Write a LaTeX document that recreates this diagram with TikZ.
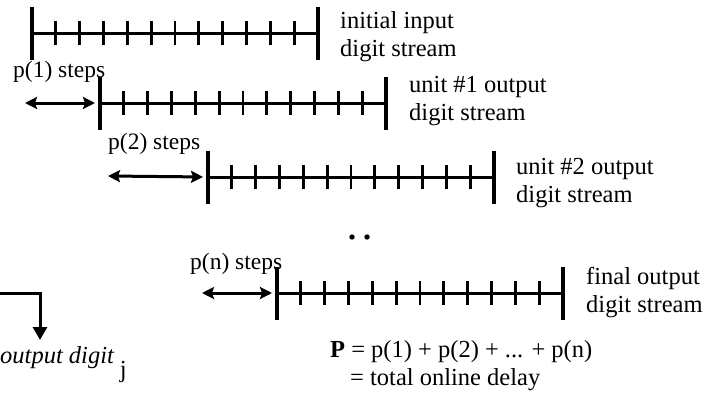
\documentclass[tikz,border=0pt]{standalone}
\usepackage{fontspec}
\setmainfont{Liberation Serif}
\usetikzlibrary{arrows.meta}

\begin{document}
\begin{tikzpicture}[x=1pt,y=-1pt,
    every node/.style={font=\fontsize{24.5}{28}\selectfont,inner sep=0pt},
    flujo/.style={line width=3pt},
    retardo/.style={line width=3pt,{Stealth[length=12pt,width=12pt,inset=2pt]}-{Stealth[length=12pt,width=12pt,inset=2pt]},shorten >=5pt},
    pasos/.style={anchor=base west,font=\fontsize{23.5}{28}\selectfont},
    rotulo/.style={anchor=west,align=left}]
    \useasboundingbox (0,0) rectangle (719,402);
    % Cuatro flujos de digitos, cada uno corrido segun su retardo p(i).
    \foreach \sx/\sy/\nom in {32/33/f0,100/103/f1,208/177/f2,277/293/fn} {
        \coordinate (\nom) at (\sx,\sy);
        \draw[flujo] (\sx,\sy) -- ++(286,0);
        \foreach \ex in {0,286} {
            \draw[flujo,line width=3.3pt] (\sx+\ex,\sy-26) -- (\sx+\ex,\sy+27);
        }
        \foreach \t in {1,...,11} {
            \draw[flujo,line width=2.8pt] ({\sx+\t*286/12},\sy-12) -- ++(0,24);
        }
    }
    \node[rotulo] (r0) at (340,37) {initial input\\digit stream};
    \node[rotulo] (r1) at (409,101) {unit \#1 output\\digit stream};
    \node[rotulo] (r2) at (516,183) {unit \#2 output\\digit stream};
    \node[rotulo] (rn) at (586,293) {final output\\digit stream};
    % Retardos entre una unidad y la siguiente.
    \foreach \ax/\ay/\nom/\lx/\ly/\lab in {25/103/f1/13/77/1,108/176/f2/108/149/2,202/293/fn/190/269/n} {
        \coordinate (a\nom) at (\ax,\ay);
        \draw[retardo] (a\nom) -- (\nom);
        \node[pasos] (p\nom) at (\lx,\ly) {p(\lab) steps};
    }
    \fill (352,237) circle[radius=2.7];
    \fill (367,237) circle[radius=2.7];
    % Suma de los retardos.
    \node[anchor=base west] (suma) at (330,357) {\textbf{P} = p(1) + p(2) + ... + p(n)};
    \node[anchor=base west] (total) at (350,385) {= total online delay};
    % Digito de salida, a la izquierda.
    \coordinate (desde) at (-2,293);
    \coordinate (hasta) at (40,340);
    \draw[line width=3pt,-{Triangle[length=13pt,width=14pt]}] (desde) -| (hasta);
    \node[anchor=base west] (salida) at (0,363) {{\itshape output digit}\ \raisebox{-14pt}{j}};
\end{tikzpicture}
\end{document}
